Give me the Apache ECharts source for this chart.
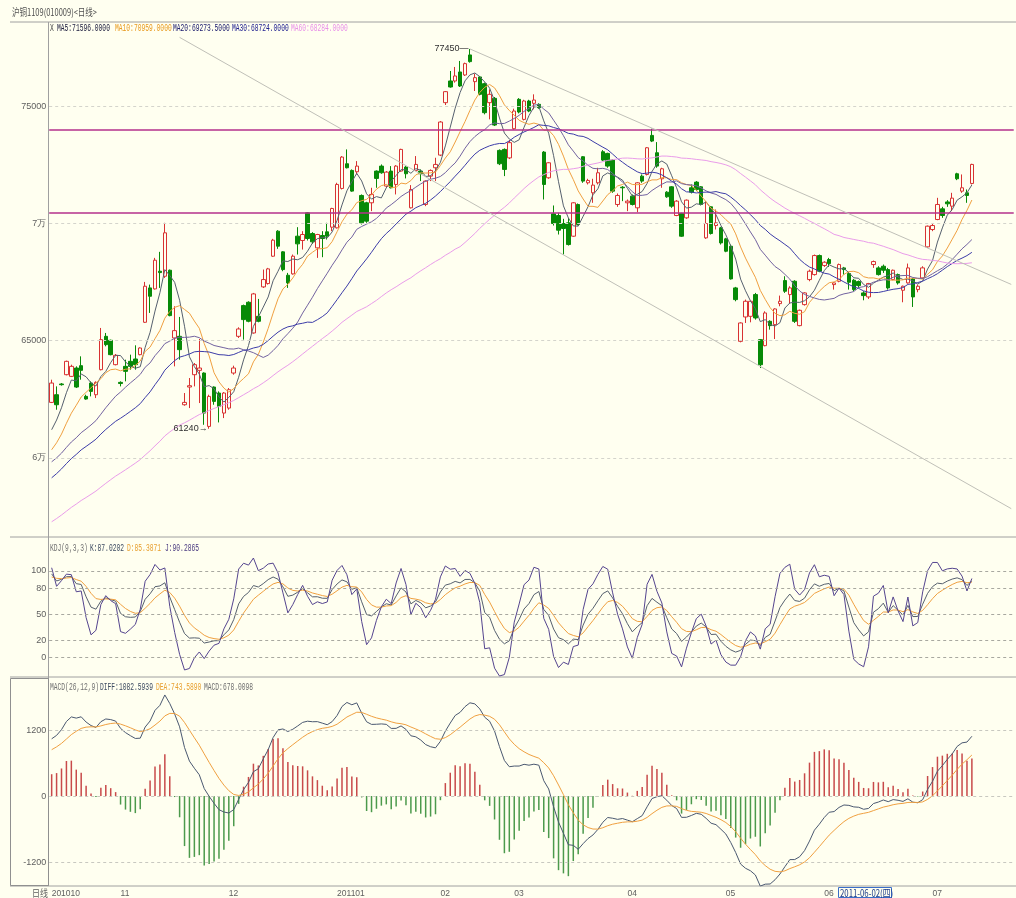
<!DOCTYPE html>
<html>
<head>
<meta charset="utf-8">
<title>沪铜1109(010009) 日线</title>
<script src="https://cdn.jsdelivr.net/npm/echarts@6.0.0/dist/echarts.min.js"></script>
<style>
  html, body { margin: 0; padding: 0; background: #fffff0; }
  #main { width: 1016px; height: 898px; }
</style>
</head>
<body>
<div id="main"></div>
<script>
// daily bars, Oct 2010 - Jul 2011
const opens = [
  62365, 62693, 63150, 63547, 63476, 63832, 63932, 62622, 63191, 62692,
  63761, 65185, 65015, 63975, 63220, 63903, 64117, 64217, 64402, 65784,
  67251, 67208, 67963, 67750, 68006, 65114, 65185, 62265, 63020, 63547,
  63733, 63618, 61340, 63020, 62764, 61909, 62123, 63618, 65185, 66496,
  66639, 65328, 66040, 67294, 67436, 68604, 69673, 68790, 67792, 67849,
  69459, 69274, 70456, 69573, 68960, 69488, 69644, 69844, 69815, 71496,
  72550, 72265, 72208, 71197, 70884, 70884, 72237, 72450, 71596, 72237,
  71667, 72237, 72408, 70670, 72265, 72237, 70813, 72023, 72379, 72920,
  75157, 76083, 76083, 76467, 76339, 77194, 76054, 76254, 75969, 75157,
  75342, 73120, 73162, 72800, 74045, 75299, 74444, 75228, 75128, 75086,
  73048, 71951, 70413, 70341, 70000, 70028, 69458, 70812, 72849, 71737,
  71310, 71737, 73062, 72991, 72706, 70812, 71550, 70883, 71168, 70669,
  72022, 72093, 73760, 73020, 71908, 71338, 71566, 70341, 70427, 70242,
  71524, 71766, 71566, 69387, 70712, 69914, 69815, 69344, 69031, 67251,
  64971, 66011, 66039, 66966, 65043, 64786, 65826, 65684, 66581, 67564,
  66966, 67535, 65641, 66538, 67607, 67820, 68632, 68205, 68461, 67393,
  67535, 68105, 67863, 67578, 67521, 67037, 66866, 68248, 68105, 68176,
  68034, 67606, 67820, 67151, 67464, 67635, 67179, 67678, 69003, 69743,
  70170, 70626, 70920, 70740, 72122, 71381, 71310, 71709
]
const closes = [
  63191, 62265, 63120, 64117, 63903, 63020, 63733, 62508, 62835, 63220,
  65043, 64829, 64402, 64374, 63170, 63690, 63903, 63975, 64687, 67322,
  66895, 68433, 67905, 69602, 66069, 65428, 64616, 62365, 63077, 63975,
  63832, 61909, 62621, 62408, 62194, 62764, 62906, 63832, 65499, 65898,
  65827, 66995, 65827, 67607, 68063, 69288, 69032, 68034, 67465, 68604,
  69131, 69530, 69359, 69217, 69530, 69359, 69459, 70641, 71667, 72835,
  72379, 71382, 72450, 70029, 70100, 71240, 71924, 72166, 72194, 71524,
  72450, 73162, 72123, 71453, 72521, 72123, 71810, 72265, 72521, 74331,
  75627, 75826, 76296, 75869, 76823, 76909, 76225, 75513, 74730, 75513,
  74202, 72550, 72308, 73450, 74800, 74758, 75228, 74800, 75270, 74943,
  71666, 72592, 70000, 69715, 69786, 69102, 70883, 69957, 71809, 71837,
  71638, 72165, 72706, 72450, 71381, 71196, 71524, 70954, 70812, 71737,
  71809, 73233, 73518, 72450, 72336, 71139, 70740, 70954, 69458, 70997,
  71338, 71453, 70812, 70000, 69572, 70028, 69173, 68817, 67635, 66752,
  65755, 66681, 66681, 65969, 63974, 66182, 65641, 66353, 66681, 67108,
  67250, 65826, 66296, 67037, 67963, 68632, 67963, 68347, 68290, 67464,
  68248, 68034, 67493, 67179, 67350, 66923, 67436, 68376, 67820, 68005,
  67250, 68005, 67464, 67322, 68105, 66866, 67322, 68105, 69886, 69914,
  70812, 70341, 70840, 71082, 71908, 71524, 71196, 72521
]
const highs = [
  63334, 63048, 63191, 64146, 63974, 63903, 64331, 62693, 63263, 63263,
  65542, 65328, 65043, 64430, 63263, 64188, 64402, 64801, 64715, 67507,
  67393, 68533, 68790, 70029, 68034, 66467, 66012, 62764, 63405, 64046,
  65072, 63647, 62693, 63048, 62835, 62806, 62978, 63932, 65570, 66539,
  66681, 67037, 66781, 68035, 68106, 69345, 69715, 68818, 67892, 68675,
  69843, 69673, 70485, 69630, 69559, 69673, 70029, 70670, 71738, 72878,
  73162, 72308, 72664, 71240, 70926, 71524, 72265, 72521, 72237, 72450,
  72493, 73191, 72450, 71639, 72878, 72308, 71838, 72308, 72806, 74373,
  75655, 76510, 76681, 76937, 76866, 77450, 76396, 76296, 76012, 75726,
  75399, 73162, 73205, 73560, 74900, 75350, 75280, 75280, 75513, 75130,
  73091, 72620, 70769, 70456, 70200, 70242, 70911, 70854, 72877, 71908,
  71908, 72378, 73133, 73020, 72735, 71282, 71595, 71025, 71239, 71766,
  72093, 73262, 74045, 73475, 72379, 71381, 71595, 70997, 70456, 71025,
  71666, 71809, 71595, 70954, 70740, 70598, 69857, 69387, 69102, 67294,
  65783, 66752, 66710, 67037, 65071, 66253, 65869, 66381, 66923, 67749,
  67322, 67578, 66325, 67065, 68034, 68675, 68675, 68390, 68532, 67493,
  68290, 68148, 67920, 67635, 67564, 67108, 67464, 68418, 68176, 68248,
  68105, 68034, 67863, 67350, 68290, 67678, 67393, 68176, 69914, 69999,
  71096, 70712, 70997, 71310, 72165, 72094, 71452, 72549
]
const lows = [
  62337, 62052, 63080, 63519, 63448, 62978, 63334, 62479, 62622, 62550,
  63733, 64758, 64374, 63946, 63048, 63263, 63761, 63761, 64374, 65755,
  66183, 67180, 67251, 67678, 66040, 63903, 64188, 62223, 62123, 63048,
  62337, 61410, 61240, 62265, 61510, 61695, 62052, 63547, 65114, 65043,
  65784, 65299, 65784, 67251, 67393, 68576, 68918, 67963, 67251, 67820,
  68675, 68889, 69274, 69131, 68533, 68562, 69316, 69673, 69787, 71453,
  72351, 71354, 72094, 69957, 70029, 70527, 71524, 72123, 71524, 71496,
  71240, 72208, 71924, 70641, 72237, 71810, 70741, 71810, 71810, 72878,
  75057, 75798, 76012, 75826, 76296, 76866, 75655, 75470, 74658, 74445,
  74160, 72493, 72023, 72750, 74000, 74700, 74400, 74750, 74872, 74900,
  71025, 71908, 69914, 69530, 68675, 69059, 69430, 69914, 71737, 71666,
  70883, 71666, 72663, 72379, 71310, 70712, 70954, 70527, 70769, 70484,
  71737, 72051, 73475, 72379, 71524, 71096, 70669, 70313, 69430, 70200,
  71282, 71381, 70769, 69344, 69529, 69743, 69102, 68774, 67606, 66681,
  64928, 65755, 65783, 65898, 63831, 64758, 65470, 65071, 66467, 67037,
  66581, 65755, 65612, 66495, 67535, 67778, 67920, 68148, 68148, 67179,
  67493, 67820, 67179, 67108, 67250, 66723, 66781, 68105, 67778, 67892,
  67179, 67578, 67393, 66638, 67435, 66438, 67065, 67635, 68960, 69672,
  70142, 70242, 70712, 70527, 71851, 71310, 70883, 71666
]
// closes before the first visible bar, estimated so the MA / MACD lines start where the picture shows them
const priorCloses = [
  54000, 54100, 54300, 54200, 54500, 54600, 54800, 54700, 54900, 55000,
  55100, 55000, 55200, 55300, 55400, 55500, 55400, 55600, 55700, 55800,
  55900, 56000, 56100, 56000, 56200, 56300, 56400, 56500, 56600, 56700,
  56900, 57100, 57300, 57500, 57700, 57900, 58100, 58300, 58500, 58500,
  58900, 59100, 59200, 59300, 59400, 59400, 59350, 59400, 59500, 59600,
  59300, 59400, 59500, 59600, 59650, 60200, 60500, 60900, 61200
]

const monthStarts = [0, 14, 36, 58, 79, 94, 117, 137, 157, 179]
const monthLabels = ['201010', '11', '12', '201101', '02', '03', '04', '05', '06', '07']
const priceTicks = [60000, 65000, 70000, 75000]
const kdjTicks = [0, 20, 50, 80, 100]
const macdTicks = [-1200, 0, 1200]
const levelLines = [74010, 70470]
const trendLines = [
  [[26, 77944], [195, 57830]],
  [[85, 77450], [195, 67400]]
]
const highMark = [85, 77450]
const lowMark = [32, 61240]

const N = 196 // slots across the pane, the last few stay empty
const STEP = 4.921
const cats = Array.from({ length: N }, (_, i) => String(i))

// indicators, same way the trading software builds them
const allC = priorCloses.concat(closes)
const off = priorCloses.length
function ma (n) {
  return closes.map((c, i) => {
    let s = 0
    for (let k = 0; k < n; k++) s += allC[off + i - k]
    return +(s / n).toFixed(1)
  })
}
const diff = []
const dea = []
const hist = []
;(function () {
  let e12 = allC[0]
  let e26 = allC[0]
  let d9 = 0
  allC.forEach((c, j) => {
    e12 = e12 * 11 / 13 + c * 2 / 13
    e26 = e26 * 25 / 27 + c * 2 / 27
    const d = e12 - e26
    d9 = d9 * 8 / 10 + d * 2 / 10
    if (j >= off) {
      diff.push(+d.toFixed(2))
      dea.push(+d9.toFixed(2))
      hist.push(+(2 * (d - d9)).toFixed(2))
    }
  })
})()
const kArr = []
const dArr = []
const jArr = []
;(function () {
  const allH = priorCloses.concat(highs)
  const allL = priorCloses.concat(lows)
  let K = 50
  let D = 50
  allC.forEach((c, j) => {
    const from = Math.max(0, j - 8)
    const hh = Math.max(...allH.slice(from, j + 1))
    const ll = Math.min(...allL.slice(from, j + 1))
    const rsv = hh === ll ? 50 : (c - ll) / (hh - ll) * 100
    K = K * 2 / 3 + rsv / 3
    D = D * 2 / 3 + K / 3
    if (j >= off) {
      kArr.push(+K.toFixed(2))
      dArr.push(+D.toFixed(2))
      jArr.push(+(3 * K - 2 * D).toFixed(2))
    }
  })
})()

const GRAY = '#606060'
const FONT = '"Liberation Sans", sans-serif'

function dashes (values, color) {
  return {
    silent: true,
    symbol: ['none', 'none'],
    label: { show: false },
    lineStyle: { color: color, type: [3, 3], width: 1 },
    data: values.map(v => ({ yAxis: v }))
  }
}
function yAx (grid, min, max, ticks, fmt) {
  return {
    type: 'value',
    gridIndex: grid,
    min: min,
    max: max,
    scale: true,
    axisLine: { show: false },
    axisTick: { show: false },
    splitLine: { show: false },
    axisLabel: {
      customValues: ticks,
      color: GRAY,
      fontSize: 9,
      fontFamily: FONT,
      margin: 3,
      formatter: fmt || (v => String(v))
    }
  }
}
function xAx (grid, labels) {
  return {
    type: 'category',
    gridIndex: grid,
    data: cats,
    boundaryGap: true,
    axisLine: { show: false },
    axisTick: { show: false },
    splitLine: { show: false },
    axisLabel: labels
      ? {
          show: true,
          interval: idx => monthStarts.indexOf(idx) >= 0,
          formatter: (v, idx) => monthLabels[monthStarts.indexOf(idx)] || '',
          align: 'left',
          margin: 3,
          color: GRAY,
          fontSize: 8.5,
          fontFamily: FONT
        }
      : { show: false }
  }
}
function line (name, data, color, x, y) {
  return {
    name: name,
    type: 'line',
    xAxisIndex: x,
    yAxisIndex: y,
    data: data,
    showSymbol: false,
    symbol: 'none',
    lineStyle: { width: 1, color: color },
    itemStyle: { color: color },
    z: 3
  }
}
function txt (x, y, text, fill, sx) {
  return {
    type: 'text',
    x: x,
    y: y,
    scaleX: sx || 0.63,
    silent: true,
    style: { text: text, fill: fill, font: '10px "Liberation Mono", monospace', verticalAlign: 'middle' }
  }
}
function seg (x1, y1, x2, y2, color) {
  return { type: 'line', silent: true, shape: { x1, y1, x2, y2 }, style: { stroke: color || '#a0a0a0', lineWidth: 1 } }
}

const chart = echarts.init(document.getElementById('main'))
const gl = 49.2
const gw = N * STEP
chart.setOption({
  animation: false,
  backgroundColor: '#fffff0',
  grid: [
    { left: gl, top: 22, width: gw, height: 515 },
    { left: gl, top: 537, width: gw, height: 140 },
    { left: gl, top: 677, width: gw, height: 209 }
  ],
  xAxis: [xAx(0, false), xAx(1, false), xAx(2, true)],
  yAxis: [
    yAx(0, 56620, 78600, priceTicks, v => v === 70000 ? '7万' : v === 60000 ? '6万' : String(v)),
    yAx(1, -22.3, 139.2, kdjTicks),
    yAx(2, -1636, 2164, macdTicks)
  ],
  series: [
    {
      type: 'line', xAxisIndex: 0, yAxisIndex: 0, data: [], z: 1,
      markLine: dashes(priceTicks, '#d4d4cc')
    },
    {
      type: 'line', xAxisIndex: 1, yAxisIndex: 1, data: [], z: 1,
      markLine: dashes(kdjTicks, '#a8a8a0')
    },
    {
      type: 'line', xAxisIndex: 2, yAxisIndex: 2, data: [], z: 1,
      markLine: dashes(macdTicks, '#c8c8c0')
    },
    {
      name: 'K线',
      type: 'candlestick',
      xAxisIndex: 0,
      yAxisIndex: 0,
      barWidth: 4,
      data: opens.map((o, i) => [o, closes[i], lows[i], highs[i]]),
      itemStyle: {
        color: '#fffff0',
        color0: '#078a07',
        borderColor: '#d83232',
        borderColor0: '#078a07',
        borderWidth: 1
      },
      z: 2,
      markPoint: {
        symbol: 'circle',
        symbolSize: 1,
        itemStyle: { color: 'rgba(0,0,0,0)' },
        label: { show: true, position: 'left', distance: 1, color: '#303030', fontSize: 9, fontFamily: FONT },
        data: [
          { coord: highMark, label: { formatter: highMark[1] + '—' } },
          { coord: lowMark, label: { formatter: lowMark[1] + '→' } }
        ]
      },
      markLine: {
        silent: true,
        symbol: ['none', 'none'],
        label: { show: false },
        data: levelLines.map(v => ({ yAxis: v, lineStyle: { color: '#b4308c', width: 1.5, type: 'solid' } }))
          .concat(trendLines.map(t => [
            { coord: t[0], lineStyle: { color: '#c0c0b8', width: 1, type: 'solid' } },
            { coord: t[1] }
          ]))
      }
    },
    line('MA5', ma(5), '#56606e', 0, 0),
    line('MA10', ma(10), '#f0a040', 0, 0),
    line('MA20', ma(20), '#7262a0', 0, 0),
    line('MA30', ma(30), '#3c3ca8', 0, 0),
    line('MA60', ma(60), '#ea9cea', 0, 0),
    line('K', kArr, '#56606e', 1, 1),
    line('D', dArr, '#f0a040', 1, 1),
    line('J', jArr, '#54448e', 1, 1),
    {
      name: 'MACD',
      type: 'bar',
      xAxisIndex: 2,
      yAxisIndex: 2,
      barWidth: 1.5,
      data: hist,
      itemStyle: { color: p => p.value >= 0 ? '#c84a4a' : '#4c9a4c' },
      z: 2
    },
    line('DIFF', diff, '#4a5870', 2, 2),
    line('DEA', dea, '#f0a040', 2, 2)
  ],
  graphic: [
    seg(10, 22, 1016, 22),
    seg(48.5, 22, 48.5, 886),
    seg(10, 537, 1016, 537),
    seg(10, 677, 1016, 677),
    seg(10, 886, 1016, 886),
    { type: 'rect', silent: true, shape: { x: 10.5, y: 678.5, width: 38, height: 207 }, style: { fill: null, stroke: '#909090', lineWidth: 1 } },
    {
      type: 'text', x: 12, y: 12, scaleX: 0.75, silent: true,
      style: { text: '沪铜1109(010009)<日线>', fill: '#505050', font: '10px "Noto Sans CJK SC"', verticalAlign: 'middle' }
    },
    txt(50, 28, 'X', '#404040'),
    txt(57, 28, 'MA5:71596.0000', '#202040'),
    txt(115, 28, 'MA10:70959.0000', '#e89a20'),
    txt(173, 28, 'MA20:69273.5000', '#202070'),
    txt(232, 28, 'MA30:68724.0000', '#202090'),
    txt(291, 28, 'MA60:68284.0000', '#e890e8'),
    txt(50, 548, 'KDJ(9,3,3)', '#707070'),
    txt(90, 548, 'K:87.0202', '#3c4a60'),
    txt(127, 548, 'D:85.3871', '#e8a030'),
    txt(165, 548, 'J:90.2865', '#4a3a80'),
    txt(50, 687, 'MACD(26,12,9)', '#707070'),
    txt(100, 687, 'DIFF:1082.5939', '#3c4a60'),
    txt(156, 687, 'DEA:743.5890', '#e8a030'),
    txt(204, 687, 'MACD:678.0098', '#707070'),
    {
      type: 'text', x: 32, y: 893, scaleX: 0.8, silent: true,
      style: { text: '日线', fill: GRAY, font: '10px "Noto Sans CJK SC"', verticalAlign: 'middle' }
    },
    { type: 'rect', silent: true, shape: { x: 838.5, y: 887.5, width: 53, height: 10 }, style: { fill: '#fffff0', stroke: '#3a6ec8', lineWidth: 1 } },
    {
      type: 'text', x: 840, y: 893, scaleX: 0.78, silent: true,
      style: { text: '2011-06-02(四)', fill: '#1a3a8a', font: '10px "Noto Sans CJK SC"', verticalAlign: 'middle' }
    }
  ]
})
</script>
</body>
</html>
